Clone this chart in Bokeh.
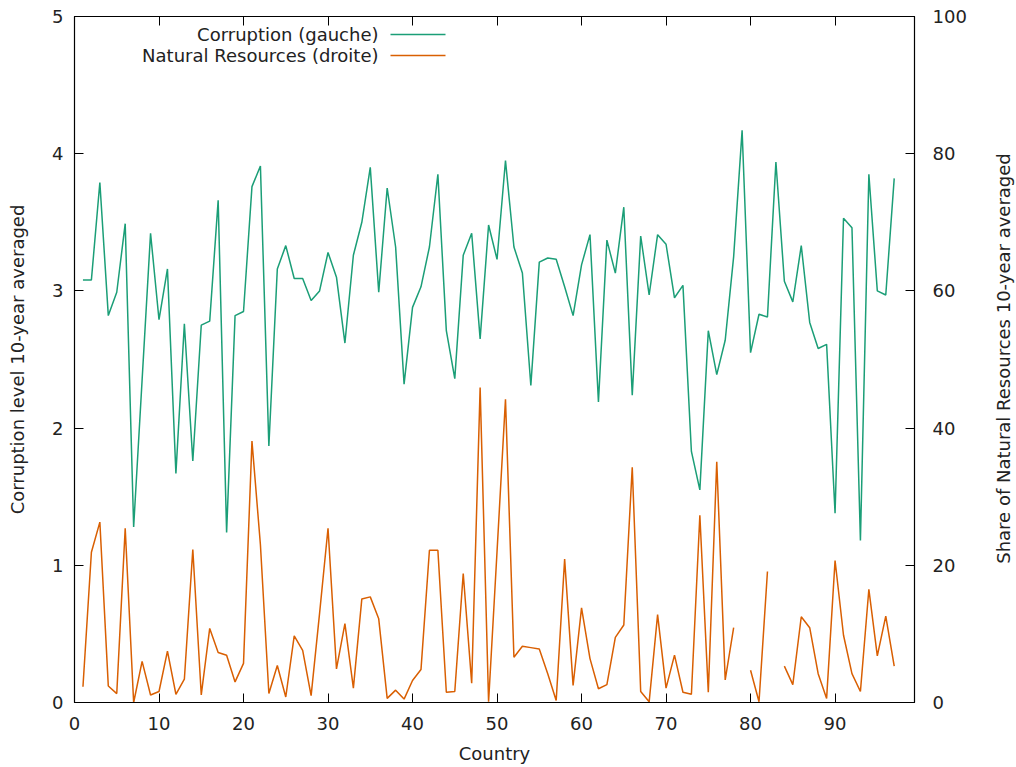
from bokeh.plotting import figure
from bokeh.layouts import row
from bokeh.models import Range1d, LinearAxis, FixedTicker, Label, BoxAnnotation
from bokeh.embed import file_html
from bokeh.resources import INLINE
import math

nan = float("nan")

countries = list(range(1, 98))

corruption = [3.08, 3.08, 3.79, 2.82, 2.99, 3.49, 1.28, 2.35, 3.42, 2.79,
              3.16, 1.67, 2.76, 1.76, 2.75, 2.78, 3.66, 1.24, 2.82, 2.85,
              3.76, 3.91, 1.87, 3.16, 3.33, 3.09, 3.09, 2.93, 3.00, 3.28,
              3.10, 2.62, 3.26, 3.50, 3.90, 2.99, 3.75, 3.32, 2.32, 2.88,
              3.03, 3.32, 3.85, 2.71, 2.36, 3.26, 3.42, 2.65, 3.48, 3.23,
              3.95, 3.32, 3.13, 2.31, 3.21, 3.24, 3.23, 3.03, 2.82, 3.19,
              3.41, 2.19, 3.37, 3.13, 3.61, 2.24, 3.40, 2.97, 3.41, 3.34,
              2.95, 3.04, 1.83, 1.55, 2.71, 2.39, 2.64, 3.25, 4.17, 2.55,
              2.83, 2.81, 3.94, 3.07, 2.92, 3.33, 2.77, 2.58, 2.61, 1.38,
              3.53, 3.46, 1.18, 3.85, 3.00, 2.97, 3.82]

natural_resources = [2.3, 21.9, 26.3, 2.4, 1.3, 25.4, 0.0, 6.0, 1.1, 1.6,
                     7.5, 1.2, 3.4, 22.3, 1.1, 10.8, 7.3, 6.9, 3.0, 5.7,
                     38.1, 23.0, 1.3, 5.4, 0.8, 9.7, 7.6, 1.0, 13.0, 25.4,
                     4.9, 11.5, 2.1, 15.1, 15.4, 12.2, 0.6, 1.8, 0.5, 3.2,
                     4.8, 22.2, 22.2, 1.5, 1.6, 18.8, 2.8, 45.9, 0.1, 22.0,
                     44.2, 6.6, 8.2, 8.0, 7.8, 4.2, 0.3, 20.9, 2.5, 13.8,
                     6.4, 2.0, 2.6, 9.5, 11.3, 34.3, 1.6, 0.1, 12.8, 2.1,
                     6.9, 1.5, 1.2, 27.3, 1.5, 35.1, 3.3, 10.9, nan, 4.7,
                     0.1, 19.1, nan, 5.3, 2.6, 12.5, 10.9, 4.2, 0.6, 20.7,
                     9.8, 4.2, 1.6, 16.5, 6.8, 12.6, 5.3]

x_ticks = [0, 10, 20, 30, 40, 50, 60, 70, 80, 90]
y_ticks = [0, 1, 2, 3, 4, 5]
y2_ticks = [0, 20, 40, 60, 80, 100]

label_corruption = "Corruption (gauche)"
label_resources = "Natural Resources (droite)"
x_title = "Country"
y_title = "Corruption level 10-year averaged"
y2_title = "Share of Natural Resources 10-year averaged"

GREEN = "#1b9e77"
ORANGE = "#d95f02"
FONT = "DejaVu Sans"
FS = "18px"
TXT = "#222222"
H = 766

p = figure(width=990, height=H, x_range=Range1d(0, 99.4), y_range=Range1d(0, 5),
           output_backend="svg", toolbar_location=None,
           min_border_left=74, min_border_right=76, min_border_top=16, min_border_bottom=62)
p.extra_y_ranges = {"y2": Range1d(0, 100)}

p.xgrid.grid_line_color = None
p.ygrid.grid_line_color = None
p.outline_line_color = "black"
p.outline_line_width = 1.2

p.line(countries, corruption, line_color=GREEN, line_width=1.5)
p.line(countries, natural_resources, line_color=ORANGE, line_width=1.5, y_range_name="y2")

def style(ax, standoff):
    ax.major_tick_in = 9
    ax.major_tick_out = 0
    ax.minor_tick_line_color = None
    ax.axis_line_color = "black"
    ax.major_tick_line_color = "black"
    ax.major_label_text_font = FONT
    ax.major_label_text_font_size = FS
    ax.major_label_text_color = TXT
    ax.major_label_standoff = standoff
    ax.axis_label_text_font = FONT
    ax.axis_label_text_font_size = FS
    ax.axis_label_text_font_style = "normal"
    ax.axis_label_text_color = TXT

xa = p.xaxis[0]
xa.ticker = FixedTicker(ticks=x_ticks)
xa.axis_label = x_title
style(xa, 14)
xa.axis_label_standoff = 10

ya = p.yaxis[0]
ya.ticker = FixedTicker(ticks=y_ticks)
ya.axis_label = y_title
style(ya, 11)
ya.axis_label_standoff = 21

y2 = LinearAxis(y_range_name="y2", ticker=FixedTicker(ticks=y2_ticks))
style(y2, 18)
p.add_layout(y2, "right")

top = LinearAxis(ticker=FixedTicker(ticks=x_ticks),
                 major_label_overrides={t: "" for t in x_ticks})
style(top, 0)
top.major_label_text_font_size = "1px"
p.add_layout(top, "above")

# gnuplot-style key: right-aligned text with sample line to its right
for txt, col, yy in [(label_corruption, GREEN, 668), (label_resources, ORANGE, 647)]:
    p.add_layout(Label(x=304, y=yy, x_units="screen", y_units="screen", text=txt,
                       text_align="right", text_baseline="middle",
                       text_font=FONT, text_font_size=FS, text_color=TXT))
    p.add_layout(BoxAnnotation(left=316, right=371, bottom=yy - 0.75, top=yy + 0.75,
                               left_units="screen", right_units="screen",
                               bottom_units="screen", top_units="screen",
                               fill_color=col, fill_alpha=1.0, line_color=None))

# narrow strip holding the y2 title, reading bottom-to-top like gnuplot's y2label
side = figure(width=26, height=H, x_range=Range1d(0, 1), y_range=Range1d(0, 1),
              output_backend="svg", toolbar_location=None,
              x_axis_type=None, y_axis_type=None,
              min_border_left=0, min_border_right=0, min_border_top=0, min_border_bottom=0)
side.outline_line_color = None
side.xgrid.grid_line_color = None
side.ygrid.grid_line_color = None
side.add_layout(Label(x=13, y=344, x_units="screen", y_units="screen", text=y2_title,
                      angle=math.pi / 2, text_align="center", text_baseline="middle",
                      text_font=FONT, text_font_size=FS, text_color=TXT))

layout = row(p, side)
open("out.html", "w").write(file_html(layout, INLINE))
